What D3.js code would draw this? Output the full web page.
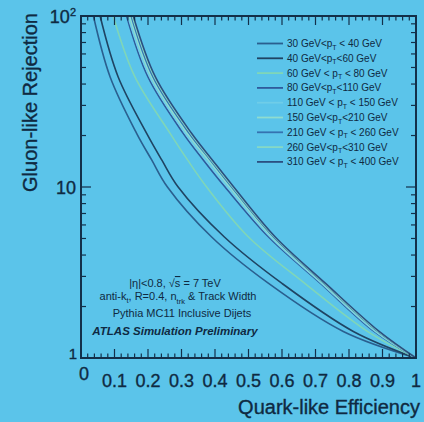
<!DOCTYPE html>
<html>
<head>
<meta charset="utf-8">
<script src="https://cdn.jsdelivr.net/npm/d3@7"></script>
<style>
  html, body { margin: 0; padding: 0; background: #5bc4ea; }
  svg { display: block; }
  text { font-family: "Liberation Sans", Arial, sans-serif; fill: #0f2a42; }
  .heavy { stroke: #0f2a42; stroke-width: 0.35px; }
</style>
</head>
<body>
<svg id="chart" width="424" height="422"></svg>
<script>
// Gluon-like rejection levels at which each curve is sampled
const rejectionLevels = [100, 44, 20.6, 14.4, 10, 5.1, 2.73, 1.43, 1];

// Quark-like efficiency of each jet pT bin at the rejection levels above
const eff30to40   = [0.037, 0.087, 0.166, 0.211, 0.258, 0.390, 0.560, 0.783, 1.0];
const eff40to60   = [0.057, 0.111, 0.196, 0.241, 0.290, 0.428, 0.600, 0.813, 1.0];
const eff60to80   = [0.096, 0.161, 0.266, 0.318, 0.375, 0.500, 0.668, 0.855, 1.0];
const eff80to110  = [0.136, 0.200, 0.305, 0.365, 0.430, 0.560, 0.715, 0.875, 1.0];
const eff110to150 = [0.140, 0.205, 0.311, 0.372, 0.437, 0.565, 0.718, 0.878, 1.0];
const eff150to210 = [0.145, 0.210, 0.317, 0.380, 0.444, 0.570, 0.722, 0.882, 1.0];
const eff210to260 = [0.150, 0.215, 0.323, 0.386, 0.450, 0.575, 0.726, 0.886, 1.0];
const eff260to310 = [0.153, 0.219, 0.327, 0.389, 0.453, 0.578, 0.728, 0.888, 1.0];
const eff310to400 = [0.156, 0.222, 0.330, 0.392, 0.456, 0.580, 0.730, 0.890, 1.0];

// Legend entries, one per pT bin
const legendLabels = [
  ["30 GeV<p", " < 40 GeV"],
  ["40 GeV<p", "<60 GeV"],
  ["60 GeV < p", " < 80 GeV"],
  ["80 GeV<p", "<110 GeV"],
  ["110 GeV < p", " < 150 GeV"],
  ["150 GeV<p", "<210 GeV"],
  ["210 GeV < p", " < 260 GeV"],
  ["260 GeV<p", "<310 GeV"],
  ["310 GeV < p", " < 400 GeV"]
];

const seriesEff = [eff30to40, eff40to60, eff60to80, eff80to110, eff110to150,
                   eff150to210, eff210to260, eff260to310, eff310to400];
const seriesColors = ["#2a5f8f", "#1f4463", "#7fd6b8", "#2f5a9c", "#6fcde8",
                      "#8fdccf", "#3572b0", "#86d8c4", "#2b4f80"];

const xTicks = [0, 0.1, 0.2, 0.3, 0.4, 0.5, 0.6, 0.7, 0.8, 0.9, 1];
const yTicks = [1, 10, 100];

const svg = d3.select("#chart");
const frame = { left: 81, right: 416, top: 16, bottom: 358 };
const ink = "#13304a";

const x = d3.scaleLinear().domain([0, 1]).range([frame.left, frame.right]);
const y = d3.scaleLog().domain([1, 100]).range([frame.bottom, frame.top]);

// Efficiency curves
const line = d3.line()
  .x(d => x(d[0]))
  .y(d => y(d[1]))
  .curve(d3.curveCatmullRom.alpha(0.5));

const curves = seriesEff.map((effs, i) => ({
  color: seriesColors[i],
  points: effs.map((e, k) => [e, rejectionLevels[k]])
}));

svg.append("g").selectAll("path")
  .data(curves)
  .join("path")
  .attr("d", d => line(d.points))
  .attr("fill", "none")
  .attr("stroke", d => d.color)
  .attr("stroke-width", 1.6);

// Frame with mirrored major and minor ticks
const minorX = d3.range(0, 1.0001, 0.02).filter(v => Math.abs(v * 10 - Math.round(v * 10)) > 1e-6);
const minorY = [];
[1, 10].forEach(dec => { for (let m = 2; m <= 9; m++) minorY.push(m * dec); });

const axes = svg.append("g").attr("stroke", ink).attr("fill", "none");
axes.append("rect")
  .attr("x", frame.left).attr("y", frame.top)
  .attr("width", frame.right - frame.left).attr("height", frame.bottom - frame.top)
  .attr("stroke-width", 2);

function hTicks(vals, len) {
  vals.forEach(v => {
    axes.append("line").attr("x1", x(v)).attr("x2", x(v))
      .attr("y1", frame.bottom).attr("y2", frame.bottom - len).attr("stroke-width", 1.2);
    axes.append("line").attr("x1", x(v)).attr("x2", x(v))
      .attr("y1", frame.top).attr("y2", frame.top + len).attr("stroke-width", 1.2);
  });
}
function vTicks(vals, len) {
  vals.forEach(v => {
    axes.append("line").attr("y1", y(v)).attr("y2", y(v))
      .attr("x1", frame.left).attr("x2", frame.left + len).attr("stroke-width", 1.2);
    axes.append("line").attr("y1", y(v)).attr("y2", y(v))
      .attr("x1", frame.right).attr("x2", frame.right - len).attr("stroke-width", 1.2);
  });
}
hTicks(xTicks, 9);
hTicks(minorX, 4.5);
vTicks(yTicks, 10);
vTicks(minorY, 5);

// X tick labels
svg.append("g").attr("class", "heavy").selectAll("text")
  .data(xTicks)
  .join("text")
  .attr("x", d => x(d) + (d === 0 ? 3 : 0))
  .attr("y", d => d === 0 ? 380 : 387)
  .attr("text-anchor", "middle")
  .attr("font-size", 18)
  .text(d => d3.format("~g")(d));

// Y tick labels
const yLab = svg.append("g").attr("class", "heavy").attr("text-anchor", "end").attr("font-size", 18);
yTicks.forEach(v => {
  const t = yLab.append("text").attr("x", v === 1 ? 77 : 76).attr("y", y(v) + (v === 1 ? 1 : 7));
  if (v === 100) {
    t.text("10");
    t.append("tspan").attr("dy", -7).attr("font-size", 11).text("2");
  } else {
    t.attr("font-size", v === 1 ? 15 : 18).text(d3.format("~g")(v));
  }
});

// Axis titles
svg.append("text")
  .attr("class", "heavy")
  .attr("x", 420).attr("y", 414)
  .attr("text-anchor", "end")
  .attr("font-size", 20)
  .text("Quark-like Efficiency");

svg.append("text")
  .attr("class", "heavy")
  .attr("transform", "translate(37,13) rotate(-90)")
  .attr("text-anchor", "end")
  .attr("font-size", 20)
  .text("Gluon-like Rejection");

// Legend
const legend = svg.append("g");
legendLabels.forEach((lab, i) => {
  const ly = 43.5 + i * 14.8;
  legend.append("line")
    .attr("x1", 257).attr("x2", 283)
    .attr("y1", ly).attr("y2", ly)
    .attr("stroke", seriesColors[i]).attr("stroke-width", 1.8);
  const t = legend.append("text")
    .attr("x", 287).attr("y", ly + 3.5)
    .attr("font-size", 10);
  t.append("tspan").text(lab[0]);
  t.append("tspan").attr("dy", 2.5).attr("font-size", 7).text("T");
  t.append("tspan").attr("dy", -2.5).text(lab[1]);
});

// Sample description
const note = svg.append("g").attr("text-anchor", "middle").attr("font-size", 11);
const n1 = note.append("text").attr("x", 175).attr("y", 287);
n1.append("tspan").text("|η|<0.8, √");
n1.append("tspan").style("text-decoration", "overline").text("s");
n1.append("tspan").text(" = 7 TeV");

const n2 = note.append("text").attr("x", 178).attr("y", 300);
n2.append("tspan").text("anti-k");
n2.append("tspan").attr("dy", 2.5).attr("font-size", 7.5).text("t");
n2.append("tspan").attr("dy", -2.5).text(", R=0.4, n");
n2.append("tspan").attr("dy", 3.5).attr("font-size", 7.5).text("trk");
n2.append("tspan").attr("dy", -3.5).text(" & Track Width");

note.append("text").attr("x", 182).attr("y", 317).text("Pythia MC11 Inclusive Dijets");
note.append("text").attr("x", 175).attr("y", 335)
  .attr("font-size", 11.5)
  .attr("font-weight", "bold").attr("font-style", "italic")
  .text("ATLAS Simulation Preliminary");
</script>
</body>
</html>
